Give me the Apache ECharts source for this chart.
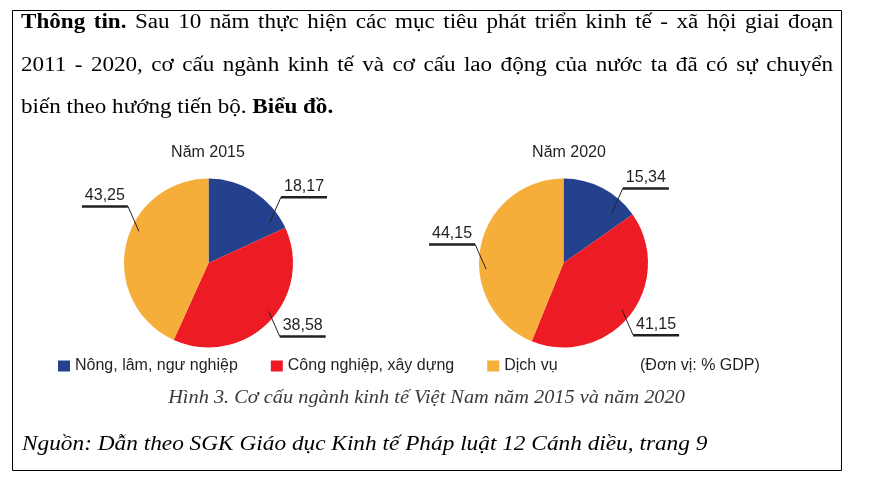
<!DOCTYPE html>
<html>
<head>
<meta charset="utf-8">
<script src="https://cdn.jsdelivr.net/npm/echarts@6/dist/echarts.min.js"></script>
<style>
html,body{margin:0;padding:0;background:#fff;}
#chart{width:876px;height:487px;}
</style>
</head>
<body>
<div id="chart"></div>
<script>
// ---- data ----
const categories = ['Nông, lâm, ngư nghiệp', 'Công nghiệp, xây dựng', 'Dịch vụ'];
const values2015 = [18.17, 38.58, 43.25];
const values2020 = [15.34, 41.15, 44.15];
const pieTitles = ['Năm 2015', 'Năm 2020'];
const unitText = '(Đơn vị: % GDP)';
const captionText = 'Hình 3. Cơ cấu ngành kinh tế Việt Nam năm 2015 và năm 2020';
const sourceText = 'Nguồn: Dẫn theo SGK Giáo dục Kinh tế Pháp luật 12 Cánh diều, trang 9';
// paragraph lines: [text, bold]
const paraLine1 = [['Thông tin.', true], ['Sau 10 năm thực hiện các mục tiêu phát triển kinh tế - xã hội giai đoạn', false]];
const paraLine2 = [['2011 - 2020, cơ cấu ngành kinh tế và cơ cấu lao động của nước ta đã có sự chuyển', false]];
const paraLine3 = [['biến theo hướng tiến bộ.', false], ['Biểu đồ.', true]];

// ---- style / layout ----
const colors = ['#24418e', '#ed1c24', '#f6ae3b'];
const ink = '#231f20';
const sans = '"Liberation Sans", Arial, sans-serif';
const serif = '"Liberation Serif", "Times New Roman", serif';
const pieCenters = [[208.5, 263], [563.5, 263]];
const pieRadius = 84.5;
const labelShift = [[15, 1, 23], [11, 7.5, 1]];
const labelDist = [[1.16, 1.21, 1.167], [1.13, 1.185, 1.07]];
const serifStretch = 1.155;
const seriesValues = [values2015, values2020];

function fmt(v) { return v.toFixed(2).replace('.', ','); }

// measure helper for justified paragraph
const cv = document.createElement('canvas').getContext('2d');
function measure(t, bold) { cv.font = (bold ? 'bold ' : '') + '20px ' + serif; return cv.measureText(t).width * serifStretch; }

function buildLine(runs, y, justify, x0, x1) {
  const words = [];
  runs.forEach(r => r[0].split(' ').forEach(w => { if (w) words.push({ t: w, b: r[1] }); }));
  const widths = words.map(w => measure(w.t, w.b));
  const sum = widths.reduce((a, b) => a + b, 0);
  const gap = justify ? (x1 - x0 - sum) / (words.length - 1) : measure(' ', false);
  const els = [];
  let x = x0;
  words.forEach((w, i) => {
    els.push({ type: 'text', x: x, y: y, scaleX: serifStretch, silent: true,
      style: { text: w.t, fontSize: 20, fontFamily: serif, fontWeight: w.b ? 'bold' : 'normal',
               fill: '#000', align: 'left', verticalAlign: 'middle' } });
    x += widths[i] + gap;
  });
  return els;
}

const graphics = [
  { type: 'rect', shape: { x: 12.5, y: 10.5, width: 829, height: 460 }, silent: true,
    style: { fill: 'none', stroke: '#000', lineWidth: 1 } },
  ...buildLine(paraLine1, 23, true, 21, 833),
  ...buildLine(paraLine2, 65.5, true, 21, 833),
  ...buildLine(paraLine3, 108, false, 21, 833),
  { type: 'text', x: 208, y: 153, silent: true, style: { text: pieTitles[0], fontSize: 16, fontFamily: sans, fill: ink, align: 'center', verticalAlign: 'middle' } },
  { type: 'text', x: 569, y: 153, silent: true, style: { text: pieTitles[1], fontSize: 16, fontFamily: sans, fill: ink, align: 'center', verticalAlign: 'middle' } },
  { type: 'text', x: 640, y: 366, silent: true, style: { text: unitText, fontSize: 16, fontFamily: sans, fill: ink, align: 'left', verticalAlign: 'middle' } },
  { type: 'text', x: 426.5, y: 398, scaleX: 1.13, silent: true, style: { text: captionText, fontSize: 18, fontFamily: serif, fontStyle: 'italic', fill: '#3a3a3a', align: 'center', verticalAlign: 'middle' } },
  { type: 'text', x: 22, y: 445, scaleX: 1.165, silent: true, style: { text: sourceText, fontSize: 20, fontFamily: serif, fontStyle: 'italic', fill: '#000', align: 'left', verticalAlign: 'middle' } }
];

function labelLayout(p) {
  const s = p.seriesIndex % 2, i = p.dataIndex;
  const vals = seriesValues[s];
  const total = vals.reduce((a, b) => a + b, 0);
  let before = 0;
  for (let k = 0; k < i; k++) before += vals[k];
  const ang = (before + vals[i] / 2) / total * 360 + labelShift[s][i];
  const rad = ang * Math.PI / 180;
  const cx = pieCenters[s][0], cy = pieCenters[s][1];
  const d = pieRadius * labelDist[s][i];
  const ex = cx + d * Math.sin(rad), ey = cy - d * Math.cos(rad);
  const sx = Math.sin(rad) >= 0 ? 1 : -1;
  const sy = Math.cos(rad) >= 0 ? -1 : 1;
  const ix = ex - sx * 11, iy = ey - sy * 25;
  return {
    x: ex, y: ey + 1.5, align: sx > 0 ? 'left' : 'right', verticalAlign: 'bottom',
    labelLinePoints: [[ix, iy], [ex, ey], [ex, ey]]
  };
}

// coloured pies (no labels)
function makePie(idx) {
  return {
    type: 'pie', name: pieTitles[idx], center: pieCenters[idx], radius: pieRadius,
    startAngle: 90, clockwise: true, silent: true, z: 2,
    itemStyle: { borderWidth: 0 },
    label: { show: false }, labelLine: { show: false },
    data: categories.map((c, k) => ({ name: c, value: seriesValues[idx][k], itemStyle: { color: colors[k] } }))
  };
}
// label layer drawn on top so leader lines reach into the slices
function makeLabels(idx) {
  return {
    type: 'pie', name: pieTitles[idx] + ' ', center: pieCenters[idx], radius: pieRadius,
    startAngle: 90, clockwise: true, avoidLabelOverlap: false, silent: true, z: 6,
    itemStyle: { color: 'rgba(0,0,0,0)', borderWidth: 0 },
    label: {
      show: true, position: 'outside',
      formatter: p => '{v|' + fmt(p.value) + '}\n{u| }',
      rich: {
        v: { fontSize: 16, fontFamily: sans, color: ink, align: 'center', lineHeight: 19 },
        u: { width: 46, height: 2.5, lineHeight: 2.5, fontSize: 1, backgroundColor: ink, align: 'center' }
      }
    },
    labelLine: { show: true, lineStyle: { color: ink, width: 1 } },
    labelLayout: labelLayout,
    data: categories.map((c, k) => ({ name: c, value: seriesValues[idx][k] }))
  };
}

const chart = echarts.init(document.getElementById('chart'), null, { renderer: 'canvas' });
chart.setOption({
  animation: false,
  backgroundColor: '#fff',
  legend: {
    left: 58, top: 358, orient: 'horizontal', icon: 'rect', itemWidth: 12, itemHeight: 11,
    itemGap: 33, padding: 0, selectedMode: false,
    data: categories.map((c, k) => ({ name: c, itemStyle: { color: colors[k] } })),
    textStyle: { fontSize: 16, fontFamily: sans, color: ink }
  },
  graphic: graphics,
  series: [makePie(0), makePie(1), makeLabels(0), makeLabels(1)]
});
</script>
</body>
</html>
